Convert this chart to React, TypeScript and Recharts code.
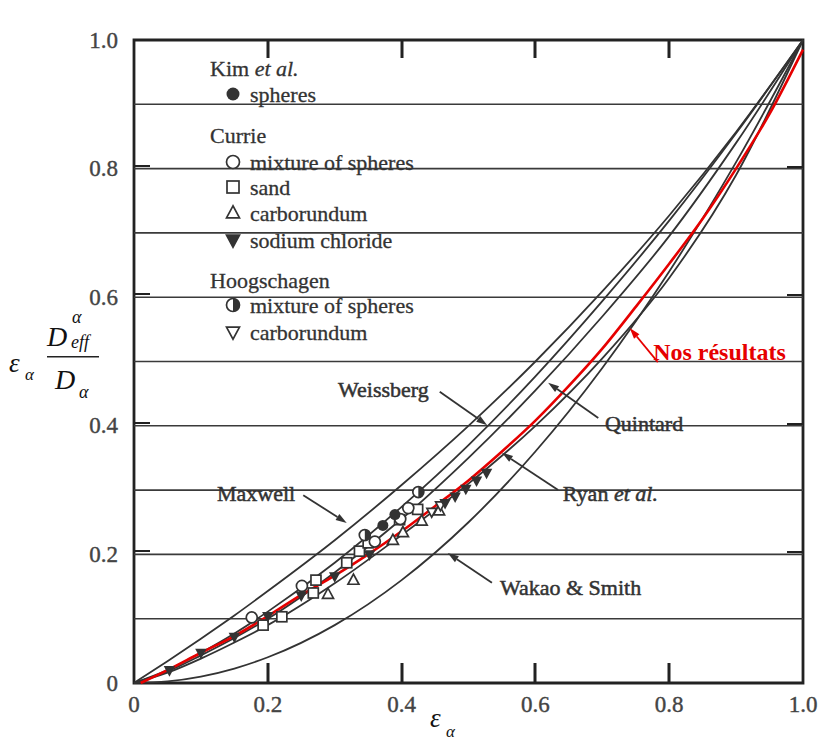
import React from 'react';
import {
  ComposedChart,
  Line,
  Scatter,
  XAxis,
  YAxis,
  ReferenceLine,
  ReferenceArea,
  ReferenceDot,
  Legend,
} from 'recharts';

// chart box (pixels) - plot spans x 134..803, y 40..683
const W = 832;
const H = 740;
const X_AXIS_H = 30;
const Y_AXIS_W = 40;
const M = { top: 40, right: 29, bottom: 57 - X_AXIS_H, left: 134 - Y_AXIS_W };
const PLOT_LEFT = 134;
const PLOT_TOP = 40;
const PLOT_RIGHT = W - 29;
const PLOT_BOTTOM = H - 57;
const PLOT_W = PLOT_RIGHT - PLOT_LEFT;
const PLOT_H = PLOT_BOTTOM - PLOT_TOP;

const SERIF = '"Liberation Serif", "DejaVu Serif", serif';
const INK = '#333';
const RED = '#e60000';

// axes
const xTicks = [0, 0.2, 0.4, 0.6, 0.8, 1.0];
const yTicks = [0, 0.2, 0.4, 0.6, 0.8, 1.0];
const tickText = ['0', '0.2', '0.4', '0.6', '0.8', '1.0'];
const innerTicks = [0.2, 0.4, 0.6, 0.8];
const gridLevels = [0.1, 0.2, 0.3, 0.4, 0.5, 0.6, 0.7, 0.8, 0.9];

// model curves
const eps = [0, 0.05, 0.1, 0.15, 0.2, 0.3, 0.4, 0.5, 0.6, 0.7, 0.8, 0.9, 1.0];
const maxwell = [0, 0.034, 0.069, 0.105, 0.143, 0.222, 0.308, 0.4, 0.5, 0.609, 0.727, 0.857, 1.0];
const weissberg = [0, 0.02, 0.047, 0.077, 0.111, 0.187, 0.274, 0.37, 0.477, 0.594, 0.719, 0.855, 1.0];
const quintard = [0, 0.018, 0.043, 0.07, 0.1, 0.172, 0.255, 0.35, 0.455, 0.57, 0.695, 0.84, 1.0];
const ryan = [0, 0.016, 0.038, 0.063, 0.09, 0.155, 0.23, 0.31, 0.4, 0.505, 0.63, 0.79, 1.0];
const wakaoSmith = [0, 0.0025, 0.01, 0.0225, 0.04, 0.09, 0.16, 0.25, 0.36, 0.49, 0.64, 0.81, 1.0];

// "Nos résultats"
const nosEps = [0.01, 0.05, 0.1, 0.15, 0.2, 0.25, 0.3, 0.35, 0.4, 0.45, 0.5, 0.55, 0.6, 0.65, 0.7, 0.75, 0.8, 0.85, 0.9, 0.95, 1.0];
const nosVal = [0, 0.02, 0.047, 0.073, 0.104, 0.137, 0.167, 0.2, 0.236, 0.275, 0.315, 0.36, 0.408, 0.462, 0.52, 0.585, 0.652, 0.722, 0.8, 0.885, 0.985];

// experimental points [eps, value]
const kimSpheres = [[0.372, 0.245], [0.39, 0.262]];
const currieMixture = [[0.176, 0.102], [0.251, 0.151], [0.36, 0.22], [0.398, 0.255], [0.41, 0.272]];
const currieSand = [[0.193, 0.09], [0.221, 0.103], [0.268, 0.14], [0.272, 0.16], [0.318, 0.187], [0.337, 0.205], [0.35, 0.218], [0.397, 0.254], [0.424, 0.27]];
const currieCarborundum = [[0.29, 0.138], [0.328, 0.16], [0.387, 0.222], [0.402, 0.234], [0.43, 0.252], [0.456, 0.268]];
const currieNaCl = [[0.053, 0.02], [0.1, 0.047], [0.15, 0.072], [0.2, 0.104], [0.25, 0.136], [0.3, 0.166], [0.352, 0.2], [0.465, 0.28], [0.48, 0.29], [0.496, 0.302], [0.512, 0.315], [0.527, 0.327]];
const hoogMixture = [[0.345, 0.23], [0.425, 0.297]];
const hoogCarborundum = [[0.445, 0.266], [0.458, 0.276]];

// curve labels and arrows (data units)
const curveLabels = [
  { text: 'Maxwell', x: 0.124, y: 0.295 },
  { text: 'Weissberg', x: 0.305, y: 0.457 },
  { text: 'Quintard', x: 0.704, y: 0.404 },
  { text: 'Ryan', italic: 'et al.', x: 0.641, y: 0.295 },
  { text: 'Wakao & Smith', x: 0.547, y: 0.148 },
];
const arrows = [
  { from: [0.253, 0.292], to: [0.318, 0.249] },
  { from: [0.457, 0.453], to: [0.528, 0.401] },
  { from: [0.694, 0.412], to: [0.619, 0.467] },
  { from: [0.634, 0.3], to: [0.55, 0.358] },
  { from: [0.535, 0.156], to: [0.469, 0.202] },
];
const nosLabel = { text: 'Nos résultats', x: 0.776, y: 0.515 };
const nosArrow = { from: [0.783, 0.499], to: [0.741, 0.552] };

const toPts = (xs: number[], ys: number[]) => xs.map((x, i) => ({ x, y: ys[i] }));
const pairs = (arr: number[][]) => arr.map(([x, y]) => ({ x, y }));

type Kind = 'dot' | 'ring' | 'square' | 'up' | 'downFill' | 'half' | 'downOpen';

const Marker = ({ kind, cx, cy, s }: { kind: Kind; cx: number; cy: number; s: number }) => {
  const sw = 1.7;
  switch (kind) {
    case 'dot':
      return <circle cx={cx} cy={cy} r={s} fill={INK} />;
    case 'ring':
      return <circle cx={cx} cy={cy} r={s} fill="#fff" stroke={INK} strokeWidth={sw} />;
    case 'half':
      return (
        <g>
          <circle cx={cx} cy={cy} r={s} fill="#fff" stroke={INK} strokeWidth={sw} />
          <path d={`M${cx},${cy - s} A${s},${s} 0 0 1 ${cx},${cy + s} Z`} fill={INK} />
        </g>
      );
    case 'square':
      return <rect x={cx - s} y={cy - s} width={2 * s} height={2 * s} fill="#fff" stroke={INK} strokeWidth={sw} />;
    case 'up':
      return (
        <polygon
          points={`${cx},${cy - 1.1 * s} ${cx - s},${cy + 0.75 * s} ${cx + s},${cy + 0.75 * s}`}
          fill="#fff"
          stroke={INK}
          strokeWidth={sw}
        />
      );
    case 'downFill':
    case 'downOpen':
      return (
        <polygon
          points={`${cx - s},${cy - 0.75 * s} ${cx + s},${cy - 0.75 * s} ${cx},${cy + 1.1 * s}`}
          fill={kind === 'downFill' ? INK : '#fff'}
          stroke={INK}
          strokeWidth={sw}
        />
      );
  }
  return null;
};

const markerShape = (kind: Kind, s: number) => (p: any) => <Marker kind={kind} cx={p.cx} cy={p.cy} s={s} />;

const tickFont = { fontFamily: SERIF, fontSize: 23, fill: '#444', stroke: '#444', strokeWidth: 0.4 } as const;

const XTick = (props: any) => {
  const { x, payload } = props;
  return (
    <text x={x} y={PLOT_BOTTOM + 21} textAnchor="middle" dominantBaseline="central" {...tickFont}>
      {tickText[xTicks.indexOf(payload.value)]}
    </text>
  );
};

const YTick = (props: any) => {
  const { y, payload } = props;
  return (
    <text x={PLOT_LEFT - 16} y={y} textAnchor="end" dominantBaseline="central" {...tickFont}>
      {tickText[yTicks.indexOf(payload.value)]}
    </text>
  );
};

const arrowShape = (color: string) => (p: any) => {
  const { x1, y1, x2, y2 } = p;
  const a = Math.atan2(y2 - y1, x2 - x1);
  const L = 11;
  const hw = 3.5;
  const bx = x2 - L * Math.cos(a);
  const by = y2 - L * Math.sin(a);
  const nx = -Math.sin(a) * hw;
  const ny = Math.cos(a) * hw;
  return (
    <g>
      <line x1={x1} y1={y1} x2={bx} y2={by} stroke={color} strokeWidth={1.8} />
      <polygon points={`${x2},${y2} ${bx + nx},${by + ny} ${bx - nx},${by - ny}`} fill={color} />
    </g>
  );
};

const legendTitles = [
  { text: 'Kim', italic: 'et al.', y: 68 },
  { text: 'Currie', y: 135 },
  { text: 'Hoogschagen', y: 280 },
];
const legendItems: { kind: Kind; text: string; y: number }[] = [
  { kind: 'dot', text: 'spheres', y: 94 },
  { kind: 'ring', text: 'mixture of spheres', y: 162 },
  { kind: 'square', text: 'sand', y: 187 },
  { kind: 'up', text: 'carborundum', y: 213 },
  { kind: 'downFill', text: 'sodium chloride', y: 240 },
  { kind: 'half', text: 'mixture of spheres', y: 305 },
  { kind: 'downOpen', text: 'carborundum', y: 332 },
];

const textStyle = { fontFamily: SERIF, fontSize: 22, fill: INK } as const;

// axis decoration drawn on top of the chart (tick marks point inward on all four sides)
const FigureLegend = () => (
  <div style={{ position: 'relative', width: 0, height: 0 }}>
    <svg width={W} height={H} style={{ position: 'absolute', left: 0, top: 0, overflow: 'visible' }}>
      <g fill="#222">
        {innerTicks.map((t) => {
          const px = Math.round(PLOT_LEFT + t * PLOT_W);
          const py = Math.round(PLOT_BOTTOM - t * PLOT_H);
          return (
            <g key={t}>
              <rect x={px - 1.5} y={PLOT_BOTTOM - 20} width={3} height={20} />
              <rect x={px - 1.5} y={PLOT_TOP} width={3} height={18} />
              <rect x={PLOT_LEFT} y={py - 4} width={16} height={2} />
              <rect x={PLOT_RIGHT - 16} y={py - 3} width={16} height={2} />
            </g>
          );
        })}
      </g>
      {legendTitles.map((t) => (
        <text key={t.text} x={210} y={t.y} dominantBaseline="central" {...textStyle} stroke={INK} strokeWidth={0.3}>
          {t.text}
          {t.italic && <tspan fontStyle="italic"> {t.italic}</tspan>}
        </text>
      ))}
      {legendItems.map((it, i) => (
        <g key={i}>
          <Marker kind={it.kind} cx={233} cy={it.y} s={it.kind === 'square' ? 6 : 6.5} />
          <text x={250} y={it.y} dominantBaseline="central" {...textStyle} stroke={INK} strokeWidth={0.3}>{it.text}</text>
        </g>
      ))}
      {/* y axis label */}
      <g fontFamily={SERIF} fontStyle="italic" fill="#111">
        <text x={9} y={372} fontSize={27}>ε</text>
        <text x={25} y={380} fontSize={17}>α</text>
        <text x={47} y={346} fontSize={28}>D</text>
        <text x={72} y={323} fontSize={18}>α</text>
        <text x={71} y={348} fontSize={18}>eff</text>
        <rect x={47} y={356} width={52} height={1.5} fill="#222" />
        <text x={55} y={389} fontSize={28}>D</text>
        <text x={79} y={398} fontSize={18}>α</text>
      </g>
      {/* x axis label */}
      <g fontFamily={SERIF} fontStyle="italic" fill="#111">
        <text x={430} y={727} fontSize={27}>ε</text>
        <text x={446} y={737} fontSize={17}>α</text>
      </g>
    </svg>
  </div>
);

export default function App() {
  return (
    <div style={{ position: 'absolute', left: 0, top: 0, width: W, height: H, background: '#fff' }}>
      <ComposedChart width={W} height={H} margin={M}>
        <XAxis type="number" dataKey="x" domain={[0, 1]} ticks={xTicks} height={X_AXIS_H}
          axisLine={false} tickLine={false} tick={<XTick />} interval={0} />
        <YAxis type="number" dataKey="y" domain={[0, 1]} ticks={yTicks} width={Y_AXIS_W}
          axisLine={false} tickLine={false} tick={<YTick />} interval={0} />

        {gridLevels.map((v) => (
          <ReferenceLine key={v} y={v} stroke="#3a3a3a" strokeWidth={1.6} />
        ))}

        <Line data={toPts(eps, maxwell)} dataKey="y" type="monotone" stroke={INK} strokeWidth={1.8} dot={false} isAnimationActive={false} />
        <Line data={toPts(eps, weissberg)} dataKey="y" type="monotone" stroke={INK} strokeWidth={1.8} dot={false} isAnimationActive={false} />
        <Line data={toPts(eps, quintard)} dataKey="y" type="monotone" stroke={INK} strokeWidth={1.8} dot={false} isAnimationActive={false} />
        <Line data={toPts(eps, ryan)} dataKey="y" type="monotone" stroke={INK} strokeWidth={1.8} dot={false} isAnimationActive={false} />
        <Line data={toPts(eps, wakaoSmith)} dataKey="y" type="monotone" stroke={INK} strokeWidth={1.8} dot={false} isAnimationActive={false} />

        <Scatter data={pairs(currieSand)} dataKey="y" shape={markerShape('square', 5)} isAnimationActive={false} />
        <Scatter data={pairs(currieCarborundum)} dataKey="y" shape={markerShape('up', 5.5)} isAnimationActive={false} />
        <Scatter data={pairs(hoogCarborundum)} dataKey="y" shape={markerShape('downOpen', 4.8)} isAnimationActive={false} />
        <Scatter data={pairs(currieMixture)} dataKey="y" shape={markerShape('ring', 5.5)} isAnimationActive={false} />
        <Scatter data={pairs(hoogMixture)} dataKey="y" shape={markerShape('half', 5.5)} isAnimationActive={false} />
        <Scatter data={pairs(kimSpheres)} dataKey="y" shape={markerShape('dot', 5.5)} isAnimationActive={false} />
        <Scatter data={pairs(currieNaCl)} dataKey="y" shape={markerShape('downFill', 4.3)} isAnimationActive={false} />

        <Line data={toPts(nosEps, nosVal)} dataKey="y" type="monotone" stroke={RED} strokeWidth={2.6} dot={false} isAnimationActive={false} />

        {arrows.map((a, i) => (
          <ReferenceLine key={i} segment={[{ x: a.from[0], y: a.from[1] }, { x: a.to[0], y: a.to[1] }]}
            shape={arrowShape(INK)} ifOverflow="visible" />
        ))}
        <ReferenceLine segment={[{ x: nosArrow.from[0], y: nosArrow.from[1] }, { x: nosArrow.to[0], y: nosArrow.to[1] }]}
          shape={arrowShape(RED)} ifOverflow="visible" />

        {curveLabels.map((l) => (
          <ReferenceDot key={l.text} x={l.x} y={l.y} r={0} ifOverflow="visible"
            shape={(p: any) => (
              <text x={p.cx} y={p.cy} dominantBaseline="central" {...textStyle} stroke={INK} strokeWidth={0.5}>
                {l.text}
                {l.italic && <tspan fontStyle="italic"> {l.italic}</tspan>}
              </text>
            )} />
        ))}
        <ReferenceDot x={nosLabel.x} y={nosLabel.y} r={0} ifOverflow="visible"
          shape={(p: any) => (
            <text x={p.cx} y={p.cy} dominantBaseline="central" fontFamily={SERIF} fontSize={24}
              fontWeight="bold" fill={RED}>
              {nosLabel.text}
            </text>
          )} />

        <ReferenceArea x1={0} x2={1} y1={0} y2={1} fill="none" fillOpacity={0} stroke="#222"
          strokeWidth={2.8} ifOverflow="visible" />

        <Legend content={<FigureLegend />} wrapperStyle={{ left: 0, top: 0, width: 0, height: 0, pointerEvents: 'none' }} />
      </ComposedChart>
    </div>
  );
}
